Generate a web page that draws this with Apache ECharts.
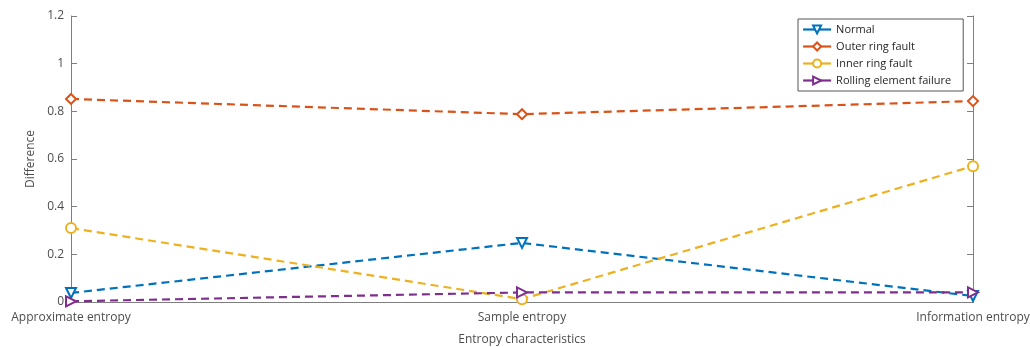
<!DOCTYPE html>
<html>
<head>
<meta charset="utf-8">
<script src="https://cdn.jsdelivr.net/npm/echarts@6/dist/echarts.min.js"></script>
<style>
  html, body { margin: 0; padding: 0; background: #fff; }
  #chart { width: 1030px; height: 347px; }
</style>
</head>
<body>
<div id="chart"></div>
<script>
// categories on the x axis
const categories = ['Approximate entropy', 'Sample entropy', 'Information entropy']

// values
const normal = [0.038, 0.248, 0.025]
const outerRing = [0.852, 0.788, 0.843]
const innerRing = [0.31, 0.012, 0.57]
const rollingElement = [0.003, 0.04, 0.04]

const yTicks = { min: 0, max: 1.2, interval: 0.2 }

const axisGray = '#7f7f7f'
const textGray = '#4d4d4d'
const fontFamily = '"Open Sans", "Noto Sans", sans-serif'

const chart = echarts.init(document.getElementById('chart'))

function makeSeries(name, data, color, symbol, rotate) {
  return {
    name: name,
    type: 'line',
    data: data,
    symbol: symbol,
    symbolSize: 10,
    symbolRotate: rotate,
    showAllSymbol: true,
    lineStyle: { color: color, width: 2.2, type: [8, 5] },
    itemStyle: { color: color, borderWidth: 2 },
    emphasis: { disabled: true },
    z: 2
  }
}

const series = [
  makeSeries('Normal', normal, '#0072BD', 'emptyTriangle', 180),
  makeSeries('Outer ring fault', outerRing, '#D95319', 'emptyDiamond', 0),
  makeSeries('Inner ring fault', innerRing, '#EDB120', 'emptyCircle', 0),
  makeSeries('Rolling element failure', rollingElement, '#7E2F8E', 'emptyTriangle', -90)
]

const option = {
  animation: false,
  textStyle: { fontFamily: fontFamily },
  grid: { left: 71, right: 57, top: 16, bottom: 45, show: false, outerBoundsMode: 'none', containLabel: false },
  legend: {
    orient: 'vertical',
    left: 798,
    top: 19,
    itemWidth: 28,
    itemHeight: 10,
    itemGap: 6,
    padding: [5, 12, 5, 4],
    borderColor: '#555',
    borderWidth: 1,
    backgroundColor: '#fff',
    textStyle: { fontSize: 11, color: '#262626', fontFamily: fontFamily },
    lineStyle: { type: 'solid', width: 2.2 },
    data: series.map(s => s.name)
  },
  xAxis: [
    {
      type: 'category',
      data: categories,
      boundaryGap: false,
      name: 'Entropy characteristics',
      nameLocation: 'middle',
      nameGap: 32,
      nameTextStyle: { fontSize: 12, color: textGray },
      axisLine: { lineStyle: { color: axisGray, width: 1 } },
      axisTick: { show: false },
      axisLabel: { fontSize: 12, color: textGray, margin: 10 },
      splitLine: { show: false }
    },
    {
      type: 'category',
      data: categories,
      boundaryGap: false,
      position: 'top',
      axisLine: { lineStyle: { color: axisGray, width: 1 } },
      axisTick: { show: false },
      axisLabel: { show: false },
      splitLine: { show: false }
    }
  ],
  yAxis: [
    {
      type: 'value',
      min: yTicks.min,
      max: yTicks.max,
      interval: yTicks.interval,
      name: 'Difference',
      nameLocation: 'middle',
      nameGap: 31,
      nameTextStyle: { fontSize: 12, color: textGray },
      axisLine: { show: true, lineStyle: { color: axisGray, width: 1 } },
      axisTick: { show: true, inside: true, length: 6, lineStyle: { color: axisGray } },
      axisLabel: { fontSize: 12, color: textGray, margin: 7 },
      splitLine: { show: false }
    },
    {
      type: 'value',
      min: yTicks.min,
      max: yTicks.max,
      interval: yTicks.interval,
      position: 'right',
      axisLine: { show: true, lineStyle: { color: axisGray, width: 1 } },
      axisTick: { show: true, inside: true, length: 6, lineStyle: { color: axisGray } },
      axisLabel: { show: false },
      splitLine: { show: false }
    }
  ],
  series: series
}

chart.setOption(option)
</script>
</body>
</html>
